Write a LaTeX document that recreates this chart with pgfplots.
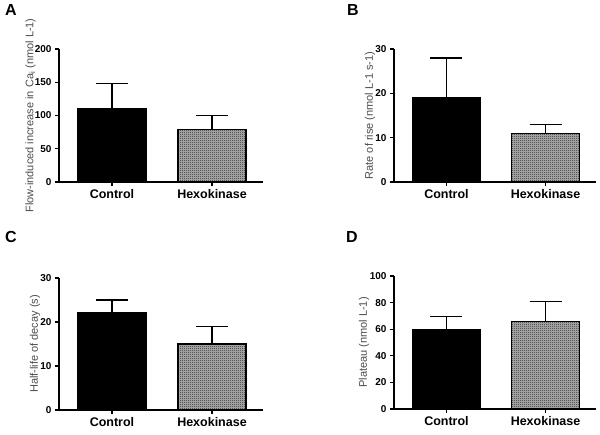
\documentclass[border=0pt]{standalone}
\usepackage{pgfplots}
\pgfplotsset{compat=1.18}
\usepackage{fontspec}
\setmainfont{Liberation Sans}
\usetikzlibrary{patterns}

% fine checker used for the hexokinase bars
\pgfdeclarepatternformonly{checker}{\pgfpointorigin}{\pgfqpoint{2pt}{2pt}}{\pgfqpoint{2pt}{2pt}}{%
  \pgfpathrectangle{\pgfpointorigin}{\pgfqpoint{1pt}{1pt}}%
  \pgfpathrectangle{\pgfqpoint{1pt}{1pt}}{\pgfqpoint{1pt}{1pt}}%
  \pgfusepath{fill}}

\pgfplotsset{
  panel/.style={
    scale only axis, anchor=south west,
    axis x line=bottom, axis y line=left,
    axis line style={-, line width=1.2pt},
    xmin=-0.53, xmax=1.51, ymin=0,
    xtick={0,1}, xticklabels={Control,Hexokinase},
    tick align=outside, major tick length=4pt,
    tick style={line width=1.2pt, black},
    /pgf/number format/assume math mode=true,
    yticklabel style={font=\fontsize{10}{11}\selectfont\bfseries},
    xticklabel style={font=\fontsize{12.5}{14}\selectfont\bfseries},
    ylabel style={font=\fontsize{11}{12}\selectfont, text=black!70, rotate=0, anchor=center},
  },
  ctrl/.style={ybar, bar width=68pt, bar shift=0pt, fill=black, draw=black, line width=1.3pt,
    error bars/.cd, y dir=plus, y explicit,
    error bar style={line width=1.3pt, black},
    error mark options={rotate=90, mark size=16pt, line width=1.3pt, black}},
  hexobg/.style={ybar, bar width=68pt, bar shift=0pt, fill=black!30, draw=none},
  hexo/.style={ybar, bar width=68pt, bar shift=0pt, pattern=checker, pattern color=black!85, draw=black, line width=1.3pt,
    error bars/.cd, y dir=plus, y explicit,
    error bar style={line width=1.3pt, black},
    error mark options={rotate=90, mark size=16pt, line width=1.3pt, black}},
}

\begin{document}
\begin{tikzpicture}
\path (0pt,0pt) rectangle (600pt,435pt);

% A
\begin{axis}[panel, at={(59pt,253pt)}, width=204pt, height=133pt, ymax=200, ytick={0,50,...,200},
  ylabel={Flow-induced increase in Ca$_{\mathrm{i}}$ (nmol L-1)},
  ylabel style={at={(axis description cs:-0.14,0.5)}}]
  \addplot[ctrl] coordinates {(0,110.5) +- (0,38)};
  \addplot[hexobg] coordinates {(1,79)};
  \addplot[hexo] coordinates {(1,79) +- (0,21)};
\end{axis}

% B
\begin{axis}[panel, at={(394pt,253pt)}, width=202pt, height=133pt, ymax=30, ytick={0,10,20,30},
  ylabel={Rate of rise (nmol L-1 s-1)},
  ylabel style={at={(axis description cs:-0.119,0.5)}}]
  \addplot[ctrl] coordinates {(0,19) +- (0,9)};
  \addplot[hexobg] coordinates {(1,11)};
  \addplot[hexo] coordinates {(1,11) +- (0,1.9)};
\end{axis}

% C
\begin{axis}[panel, at={(59pt,25pt)}, width=204pt, height=132pt, ymax=30, ytick={0,10,20,30},
  ylabel={Half-life of decay (s)},
  ylabel style={at={(axis description cs:-0.118,0.5)}}]
  \addplot[ctrl] coordinates {(0,22.1) +- (0,2.9)};
  \addplot[hexobg] coordinates {(1,15)};
  \addplot[hexo] coordinates {(1,15) +- (0,4)};
\end{axis}

% D
\begin{axis}[panel, at={(394pt,26pt)}, width=202pt, height=133pt, ymax=100, ytick={0,20,...,100},
  ylabel={Plateau (nmol L-1)},
  ylabel style={at={(axis description cs:-0.149,0.5)}}]
  \addplot[ctrl] coordinates {(0,59.3) +- (0,10.5)};
  \addplot[hexobg] coordinates {(1,65.6)};
  \addplot[hexo] coordinates {(1,65.6) +- (0,15.3)};
\end{axis}

\node[font=\fontsize{16}{16}\selectfont\bfseries] at (11pt,425pt) {A};
\node[font=\fontsize{16}{16}\selectfont\bfseries] at (353pt,425pt) {B};
\node[font=\fontsize{16}{16}\selectfont\bfseries] at (11pt,198pt) {C};
\node[font=\fontsize{16}{16}\selectfont\bfseries] at (352pt,198pt) {D};
\end{tikzpicture}
\end{document}
